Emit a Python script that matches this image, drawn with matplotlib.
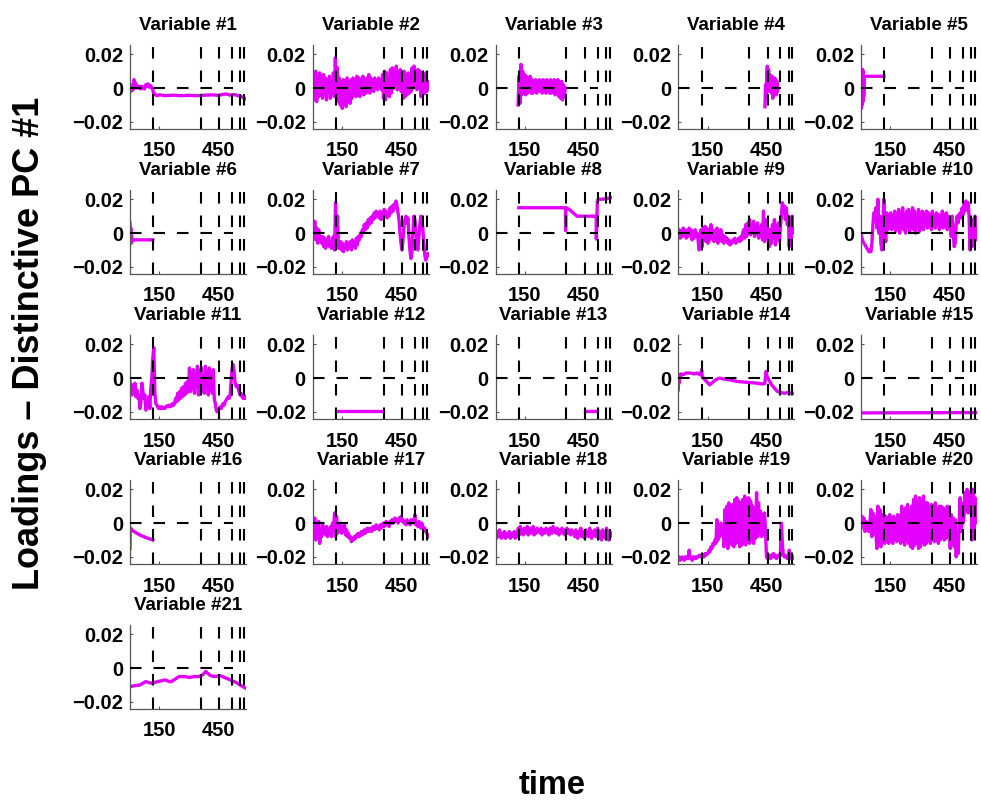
import numpy as np
import matplotlib
matplotlib.use("Agg")
import matplotlib.pyplot as plt

plt.rcParams['font.family'] = ['Liberation Sans', 'DejaVu Sans']
plt.rcParams['font.weight'] = 'bold'
plt.rcParams['lines.scale_dashes'] = False

# ---------------- data (loadings in units of 1e-3) ----------------
SCALE = 1e-3
XMAX = 590
event_times = [119, 360, 455, 519, 561, 581]
zero_line_end = 522
yticks = [-0.02, 0.0, 0.02]
ytick_labels = ['\u22120.02', '0', '0.02']
xticks = [150, 450]
xtick_labels = ['150', '450']

x1 = [0, 4, 8, 12, 16, 20, 24, 28, 32, 38, 44, 50, 56, 62, 68, 74, 80, 86, 92, 98,
      104, 110, 116, 120, 126, 135, 150, 180, 220, 260, 300, 340, 380, 420, 450, 470,
      490, 510, 530, 550, 565, 580, 590]
y1 = [-2, 1, -1.5, 2, -1, 5, 2, 3, 0, 1.5, 0, 1, -0.5, 1, 0, -0.5, 2, 1, 2.5, 0.5,
      1.5, 0.5, -1, -3, -3.5, -4.5, -4, -4.5, -4.2, -4.5, -4.3, -4.5, -4.2, -4, -4.3, -3.8,
      -3.5, -4.2, -3.8, -4.5, -5, -5.8, -6.5]

t2 = (0, 590)
y2 = [-3, 8, -7, 10, -8, 6, -5, 9, -4,
      7, -6, 8, -3, 6, -7, 5, -2, 7, -6, 4, -3,
      9, -5, 18, -4, 12, -8,
      6, -10, 4, -12, 5, -9, 3, -11, 6, -8, 2, -9, 5, -6,
      6, -4, 5, -5, 7, -3, 6, -5, 4, -2, 7, -4, 5, -3, 6, -2, 8, -3, 6, -1,
      5, -2, 6, 0, 4, -1, 6, 1, 5, -1,
      8, -6, 10, -7, 9, -4, 6, -5, 11, -3,
      12, 0, 10, 2, 13, -1, 9, 1, 11, -2,
      8, -6, 10, -5, 6, -4, 9, -3, 7, -2,
      12, 0, 13, 2, 9, -1, 11, 1,
      10, -5, 8, -4, 6, -3, 9, -2, 4, 1]

t3 = (115, 355)
y3 = [-10, 7, -9, 14, -4, 10, -2,
      8, -4, 7, -3, 6, -2, 7, -3,
      5, -3, 4, -2, 5, -3, 4, -2, 5, -1, 4, -3, 5, -2, 4, -3,
      5, -2, 4, -3, 5, -3, 4, -2, 5, -4, 4, -3, 5, -5, 3, -6, 4, -7, 2, -5, 0]

t4 = (441, 508)
y4 = [-11, 2, -6, 8, 13, 0, 11, -2, 8, 3, 6, -3, 7, -6, 2, -4, 6, -3, 5, -4, 4, -2, 0]

x5 = [0, 2, 4, 6, 8, 10, 12, 14, 16, 20, 117]
y5 = [0, -12, 9, -10, 11, -8, 10, -5, 7, 7, 7]

x6 = [0, 2, 4, 6, 8, 10, 14, 20, 60, 116]
y6 = [6, -2, 3, -6, -2, -4, -4.5, -4, -4, -4]

t7 = (0, 590)
y7 = [0, -3, 7, -4, 3, -6, 2, -5, -2,
      -6, -2, -8, -3, -9, -4, -7, -2, -8, -5, -9, -3,
      -2, -10, 18, -6, 10, -9,
      -8, -5, -10, -6, -11, -7, -9, -5, -10, -6, -9, -5, -10, -4, -8, -5, -9, -3, -7, -2,
      -4, 0, -2, 2, 1, 5, 2, 6, 3, 8, 5, 9, 6, 10,
      8, 12, 9, 13, 10, 12, 9, 13, 8, 12, 10, 14, 11, 13, 9, 12, 10, 15, 12, 16, 13, 17, 15, 19,
      16, 12, 8, 0, -6, -10, -4, 4, 8, 10,
      6, 9, -2, -10, -15, -12, 0, 10, 8, 2,
      -6, -10, -3, 5, 10, 9, 3, -6, -13, -16, -14, -12, -13]

x8 = [119, 356, 356.5, 357, 375, 395, 415, 440, 480, 512, 513, 515, 518, 522, 540, 570, 590]
y8 = [15, 15, 1.5, 15, 14, 12, 10, 10, 10, 10, -3.5, 5, 19, 20, 20, 20.5, 21]

t9 = (0, 590)
y9 = [-2, 2, -3, 1, -2, 3, -1, 2, -3, 0, -2, 3, -1, 2, -4, 1, -3, 2, -2, 0,
      -4, -10, -5, 2, -8, 3,
      -4, 4, -5, 3, -6, 2, -4, 5, -3, 2, -5, 1, -4, 3, -6, 0, -4, 2, -5, -1, -6, -2, -5, -3,
      -6, -4, -7, -5, -6, -4, -5, -3, -6, -5, -4, -3, -5, -2, -4, 0,
      2, -3, 5, -2, 6, 0, 8, -1, 5, 1, 7, -2, 4, 0, 6, -3, 3, -2,
      5, -4, 13, -5, 8, -3, 4, -6,
      -8, 2, -6, 5, -3, 8, -7, 4, -2, 6, -5, 3,
      10, 18, 14, 16, 8, 15, 5, 10, -8, 8, -3, 10, 0, 5]

t10 = (0, 590)
y10 = [-1, -3, -5, -6, -7, -8, -9, -10, -11, -10, -11, -6,
       5, 12, 8, 15, 3, 20, 0, 10, -6, -10, 3, 20,
       0, -5, 12, 2, 10, 4,
       12, 2, 10, 4, 13, 1, 11, 5, 14, 0, 12, 3, 15, 2, 11, 0, 13, 4, 14, 1, 12, 3, 15, 2,
       13, 0, 11, 4, 14, 1, 12, 3, 13, 2, 11, 5,
       13, 3, 12, 5, 11, 2, 13, 4, 10, 3, 12, 6, 11, 2, 10, 4, 13, 3, 11, 5, 12, 2, 10, 4,
       8, -2, 10, 0, -8, -6, 5, 10, 6, 11,
       12, 9, 15, 11, 17, 13, 19, 15, 18, 10,
       -10, 0, -8, 8, -6, 10, -4, 3]

t11 = (0, 590)
y11 = [-2, -6, -10, -4, -9, -3, -11, -7, -12, -10,
       -18, -14, -3, -8, -12, -10, -19, -15, -17, -11, -18, -6, 0,
       12, 18, -8, -15, -16, -17, -18,
       -17, -18, -17, -18, -17.5, -18, -17, -16.5, -17, -16, -17, -16, -16.5, -15, -16, -15,
       -12, -14, -9, -13, -8, -12, -6, -11, -5, -10, -3, -9, -2, -8,
       6, -8, 3, -6, 5, -9, 2, -4, 7, -10, 4, -6, 6, -8, 0, -9, 7, -5, 3, -10, 6, -7, 2, -9, 5, -12,
       -15, -19, -20, -19, -18, -17, -18, -16, -15, -16, -14, -13, -12, -11, -12, -10,
       -2, 6, 8, 4, -3, -5, -4, -6, -8, -10, -9, -11, -12, -10, -12, -12]

x12 = [119, 358]
y12 = [-19.5, -19.5]

x13 = [455, 515]
y13 = [-19.5, -19.5]

x14 = [0, 2, 4, 6, 8, 10, 15, 25, 40, 60, 80, 100, 110, 116, 119, 122, 128, 140, 160, 175, 190,
       210, 230, 260, 300, 350, 400, 430, 440, 444, 447, 452, 460, 475, 490, 505,
       520, 540, 560, 575, 590]
y14 = [-7, 1, -3, 2, 0, 2, 2.5, 2, 3, 3, 2.5, 3, 2, 3, 5, 1, 0, -1.5, -4, -2.5, -1,
       0, -0.5, -1, -2, -2.5, -3, -3.5, -3.2, 1, 4, 1, -1, -4, -6, -8,
       -8.5, -9, -8.5, -9, -9]

x15 = [0, 590]
y15 = [-20.6, -20.4]

x16 = [0, 1, 3, 6, 10, 20, 35, 50, 70, 90, 105, 116]
y16 = [-15, -4, -3, -3.5, -4, -5, -6, -7, -8, -9, -9.5, -10]

t17 = (0, 590)
y17 = [0, -8, 3, -10, -2, -6, 1, -12, -4, -8, -1, -6,
       -3, -7, -2, -8, -4, -6, -2, -8, 0, -5,
       6, -8, 4, -6,
       -2, -5, 0, -6, -3, -5, -1, -7, -4, -8, -6, -9, -8, -11,
       -9, -10, -8, -9, -7, -8, -6, -8, -7, -5, -7, -6, -4, -6, -5, -3, -5, -4, -3, -5,
       -4, -2, -4, -3, -1, -3, -2, -4, -1, -3, -2, 0, -2, -1, 1, -1, 0, -2, 1, 0, 2, 0, 1, 3, 1, 2, 0, 3, 2, 4,
       1, 2, 0, 1, -1, 2, 0, 1, -1, 2, 0, 1, 2, 5,
       -1, 0, -2, 1, -1, -3, 0, -2, -4, -3, -5, -6, -7, -8]

t18 = (0, 590)
y18 = [-6, -9, -5, -8, -4, -7, -9, -6, -8, -5, -9, -7, -6, -8, -5, -9, -7, -6, -8, -5, -9, -6, -8,
       -3, -7, -2, -6, -4, -7, -3, -5, -6, -2, -7, -4, -3, -6, -5, -2, -7, -4, -6, -3, -5, -4, -6, -3, -7, -4, -5,
       -6, -3, -5, -4, -7, -3, -5, -6, -2, -5, -4, -6, -3, -5, -7, -4, -5, -3, -6, -4, -7, -5, -3, -6, -4, -5, -7, -4, -6, -5,
       -8, -4, -6, -9, -5, -7, -3, -8, -5, -6, -9, -4, -7, -5, -8, -3, -6, -9, -5, -7, -4, -8, -6, -3, -9, -5, -7, -10,
       -4, -8, -6, -9, -3, -7, -10, -5, -8, -6]

t19 = (0, 590)
y19 = [-21, -20, -22, -21, -20, -21, -22, -20, -21, -20, -21, -16, -20, -21, -22, -20, -21, -20, -21, -20,
       -20, -19, -20, -19, -20, -19, -20, -18, -19, -18,
       -18, -16, -17, -14, -15, -12, -13, -10, -12, 2,
       -10, -2, -8, 0, -6, -1,
       -14, 8, -12, 10, -15, 12, -10, 9, -13, 11,
       -14, 14, -12, 15, -11, 13, -14, 12, -13, 14,
       -12, 16, -13, 14, -11, 15, -12, 13,
       -10, 10, -12, 8, -9, 18, -8, 12,
       -6, 7, -8, 5, -7, 6, -4, -20,
       -21, -19, -20, -21, -19, -20, -18, -20, -19, -21, -20, -19, -20, -19,
       0, -12, -19,
       -20, -19, -20, -21, -20, -16, -20, -21, -20, -21, -20]

t20 = (0, 590)
y20 = [-3, 4, -2, 3,
       -5, 1, -4, 0, -5, 1,
       8, -8, 6, -6, 4, -5,
       -15, 10, -12, 8, -14, 5, -8,
       5, -12, 4, -10, 3,
       -12, 5, -10, 3, -12, 4, -9, 2, -11, 5, -10, 4,
       -12, 10, -11, 8, -13, 9, -10, 11, -12, 7, -14, 10,
       -15, 14, -13, 16, -12, 12, -15, 15, -14, 13, -11, 16, -13, 12,
       -12, 12, -10, 9, -12, 11, -9, 10, -11, 12, -10, 8, -12, 10,
       -10, 10, -8, 9, -10, 7, -9, 10, -7, 8,
       -15, 5, -12, 3, -14, 2,
       -20, -10, -18, 0,
       15, -5, 12, 0,
       5, 18, 8, 20, 6, 17, 10, 19,
       -10, 20, -5, 15, 0, 10]

x21 = [0, 20, 50, 80, 110, 140, 160, 180, 200, 210, 230, 250, 280, 300, 330, 350, 370, 385, 395, 410,
       430, 460, 480, 500, 520, 540, 560, 575, 590]
y21 = [-11, -10.5, -10, -8, -9, -8, -7.5, -7, -8, -8, -6.5, -5, -5, -5.5, -5, -5, -4, -2, -3, -4.5,
       -5, -4.5, -5.5, -6.5, -7.5, -8.5, -10, -11, -12]


def uniform(t, y):
    return np.linspace(t[0], t[1], len(y)), np.asarray(y, float)


series = [
    (np.asarray(x1, float), np.asarray(y1, float)),
    uniform(t2, y2), uniform(t3, y3), uniform(t4, y4),
    (np.asarray(x5, float), np.asarray(y5, float)),
    (np.asarray(x6, float), np.asarray(y6, float)),
    uniform(t7, y7),
    (np.asarray(x8, float), np.asarray(y8, float)),
    uniform(t9, y9), uniform(t10, y10), uniform(t11, y11),
    (np.asarray(x12, float), np.asarray(y12, float)),
    (np.asarray(x13, float), np.asarray(y13, float)),
    (np.asarray(x14, float), np.asarray(y14, float)),
    (np.asarray(x15, float), np.asarray(y15, float)),
    (np.asarray(x16, float), np.asarray(y16, float)),
    uniform(t17, y17),
    uniform(t18, y18),
    uniform(t19, y19),
    uniform(t20, y20),
    (np.asarray(x21, float), np.asarray(y21, float)),
]

# ---------------- layout ----------------
W, H = 981, 802
fig = plt.figure(figsize=(W / 100, H / 100), dpi=100)
ax_left0, ax_top0 = 130, 45
col_step, row_step = 182.75, 145
ax_w, ax_h = 116, 84
YLIM = (-0.0242, 0.0255)
MAGENTA = '#e300ff'
DASH = (0, (8.3, 8.6))

for i, (xs, ys) in enumerate(series):
    r, c = divmod(i, 5)
    left = ax_left0 + c * col_step
    top = ax_top0 + r * row_step
    ax = fig.add_axes([left / W, 1 - (top + ax_h) / H, ax_w / W, ax_h / H])
    ax.plot(xs, ys * SCALE, color=MAGENTA, lw=2.4, zorder=2)
    ax.plot([0, zero_line_end], [0, 0], color='black', lw=1.5, linestyle=DASH, zorder=3)
    for et in event_times:
        ax.plot([et, et], [YLIM[0], YLIM[1]], color='black', lw=1.5, linestyle=DASH, zorder=3)
    ax.set_xlim(0, XMAX)
    ax.set_ylim(*YLIM)
    ax.set_xticks(xticks)
    ax.set_xticklabels(xtick_labels)
    ax.set_yticks(yticks)
    ax.set_yticklabels(ytick_labels)
    ax.tick_params(direction='in', length=2.5, width=0.8, color='#555555',
                   labelsize=14.5)
    ax.tick_params(axis='x', pad=9)
    ax.tick_params(axis='y', pad=5)
    for lab in ax.get_xticklabels() + ax.get_yticklabels():
        lab.set_fontweight('bold')
    for s in ['top', 'right']:
        ax.spines[s].set_visible(False)
    for s in ['left', 'bottom']:
        ax.spines[s].set_color('#555555')
        ax.spines[s].set_linewidth(0.9)
    ax.set_title(f'Variable #{i + 1}', fontsize=13.5, fontweight='bold', pad=11)

fig.text(30 / W, 1 - 343 / H, 'Loadings \u2013 Distinctive PC #1', rotation=90,
         ha='center', va='center', fontsize=26, fontweight='bold')
fig.text(552 / W, 1 - 786 / H, 'time', ha='center', va='center',
         fontsize=23.5, fontweight='bold')

fig.savefig('out.png', dpi=100)
